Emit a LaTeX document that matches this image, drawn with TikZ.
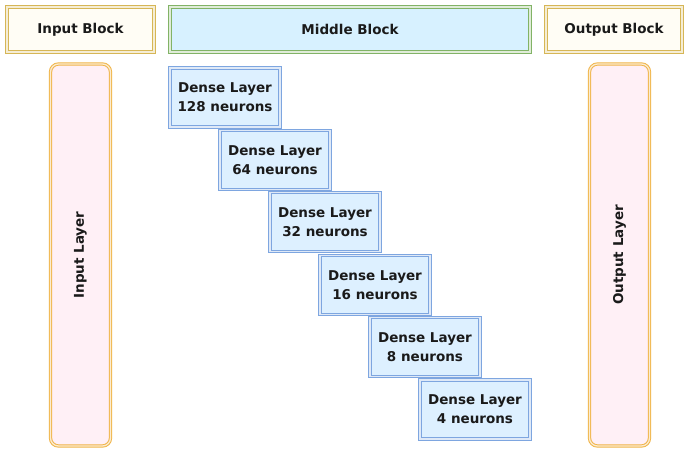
\documentclass[tikz,border=0pt]{standalone}
\usepackage{fontspec}
\setmainfont{DejaVu Sans}
\usetikzlibrary{positioning}
\definecolor{goldline}{HTML}{D6B656}
\definecolor{goldfill}{HTML}{FFFDF5}
\definecolor{greenline}{HTML}{82B366}
\definecolor{cyanfill}{HTML}{D7F1FF}
\definecolor{blueline}{HTML}{7EA6E0}
\definecolor{bluefill}{HTML}{DDF0FF}
\definecolor{orangeline}{HTML}{F0B448}
\definecolor{pinkfill}{HTML}{FFF0F6}
\definecolor{textdark}{HTML}{1A1A1A}
\tikzset{
  dbl/.style={draw=#1, double=#1!25, double distance=1.3pt, line width=1pt},
  topbox/.style={dbl=#1, minimum height=45, anchor=north west, inner sep=0pt},
  densebox/.style={dbl=blueline, fill=bluefill, minimum width=110, minimum height=59, anchor=north west, align=center, inner sep=0pt},
  layerbox/.style={dbl=orangeline, fill=pinkfill, rounded corners=8pt, rotate=90, minimum width=382, minimum height=60, inner sep=0pt}
}
\begin{document}
\begin{tikzpicture}[x=1pt,y=-1pt,font=\bfseries\fontsize{13.5}{19}\selectfont,text=textdark]
\useasboundingbox (0,0) rectangle (687,450);
\node[topbox=goldline, fill=goldfill, minimum width=147] (inblock) at (6.5,6.5) {Input Block};
\node[topbox=greenline, fill=cyanfill, minimum width=360] (midblock) at (169.5,6.5) {Middle Block};
\node[topbox=goldline, fill=goldfill, minimum width=136] (outblock) at (545.5,6.5) {Output Block};
\node[layerbox] (inlayer) at (80.5,255) {Input Layer};
\node[layerbox] (outlayer) at (619.5,255) {Output Layer};
\foreach \n [count=\i from 0] in {128,64,32,16,8,4}
  \node[densebox] (dense\i) at (169.5+50*\i,67.5+62.4*\i) {Dense Layer\\\n\ neurons};
\end{tikzpicture}
\end{document}
